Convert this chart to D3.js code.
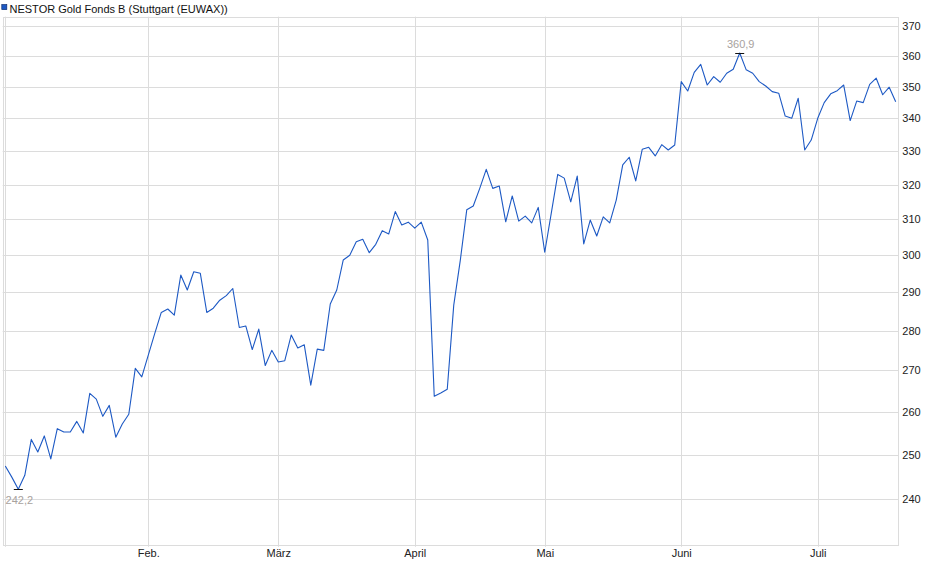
<!DOCTYPE html>
<head>
    <meta charset="utf-8">
    <style>
        body {
            margin: 0;
            background-color: #fff;
            font-family: "Liberation Sans", Arial, sans-serif;
        }
        svg text { font-family: "Liberation Sans", Arial, sans-serif; }
    </style>
</head>

<body>
    <div id="chart-area"></div>

    <script src="https://d3js.org/d3.v7.min.js"></script>
    <script>
        // daily closing prices, 2 Jan .. 17 Jul (trading days)
        var prices = [
            247.4, 244.9, 242.2, 245.3, 253.5, 250.6, 254.3, 249.0, 256.0, 255.2,
            255.2, 257.7, 255.0, 264.4, 263.0, 258.9, 261.5, 254.0, 257.1, 259.4,
            270.5, 268.4, 273.8, 279.3, 284.7, 285.6, 284.0, 294.6, 290.6, 295.5,
            295.1, 284.7, 285.8, 287.9, 289.1, 291.0, 280.8, 281.2, 275.2, 280.4,
            271.2, 275.0, 272.1, 272.4, 278.9, 275.6, 276.4, 266.4, 275.3, 275.0,
            286.9, 290.6, 298.7, 300.0, 303.7, 304.4, 300.7, 303.0, 306.8, 305.9,
            312.2, 308.4, 309.2, 307.5, 309.2, 304.2, 263.7, 264.5, 265.4, 286.6,
            298.5, 312.7, 313.8, 318.9, 324.5, 318.9, 319.6, 309.3, 316.7, 309.5,
            310.9, 309.0, 313.4, 300.8, 311.7, 323.0, 321.9, 315.0, 322.5, 303.1,
            309.8, 305.3, 310.7, 309.0, 315.5, 325.8, 328.1, 321.1, 330.5, 331.1,
            328.5, 331.9, 330.3, 331.8, 351.6, 348.6, 354.6, 357.2, 350.5, 353.2,
            351.4, 354.3, 355.6, 360.9, 355.4, 354.3, 351.6, 350.2, 348.4, 347.9,
            340.7, 340.0, 346.3, 330.3, 333.3, 340.0, 344.9, 347.7, 348.7, 350.5,
            339.3, 345.4, 344.9, 350.7, 352.7, 347.4, 349.8, 345.2
        ]

        // first trading day of each month (index into prices)
        var monthLabels = ["Feb.", "März", "April", "Mai", "Juni", "Juli"]
        var monthIndex = [22, 42, 63, 83, 104, 125]

        var yTicks = [240, 250, 260, 270, 280, 290, 300, 310, 320, 330, 340, 350, 360, 370]

        var title = "NESTOR Gold Fonds B (Stuttgart (EUWAX))"

        var W = 940, H = 579
        var plot = { left: 2.7, top: 16.7, right: 898.3, bottom: 545.3 }
        var lineColor = "#1d59c4"
        var gridColor = "#dcdcdc"
        var format = v => d3.format(".1f")(v).replace(".", ",")

        var svg = d3.select("#chart-area").append("svg")
            .attr("width", W)
            .attr("height", H)

        var x = d3.scaleLinear()
            .domain([0, prices.length - 1])
            .range([5.3, 895.7])

        var y = d3.scaleLog()
            .domain([230.1, 373.1])
            .range([plot.bottom, plot.top])

        // horizontal grid
        svg.append("g")
            .selectAll("line")
            .data(yTicks)
            .join("line")
            .attr("x1", plot.left)
            .attr("x2", plot.right)
            .attr("y1", d => Math.round(y(d)) + 0.5)
            .attr("y2", d => Math.round(y(d)) + 0.5)
            .attr("stroke", gridColor)

        // vertical grid (month starts + first day)
        svg.append("g")
            .selectAll("line")
            .data([0].concat(monthIndex))
            .join("line")
            .attr("x1", d => Math.round(x(d)) + 0.5)
            .attr("x2", d => Math.round(x(d)) + 0.5)
            .attr("y1", plot.top)
            .attr("y2", plot.bottom + 1.5)
            .attr("stroke", gridColor)

        // frame
        svg.append("rect")
            .attr("x", Math.round(plot.left) + 0.5)
            .attr("y", Math.round(plot.top) + 0.5)
            .attr("width", Math.round(plot.right) - Math.round(plot.left))
            .attr("height", Math.round(plot.bottom) - Math.round(plot.top))
            .attr("fill", "none")
            .attr("stroke", gridColor)

        // right axis labels
        var yAxis = d3.axisRight(y)
            .tickValues(yTicks)
            .tickFormat(d3.format("d"))
            .tickSize(0)
            .tickPadding(4)

        svg.append("g")
            .attr("transform", `translate(${plot.right},0)`)
            .call(yAxis)
            .call(g => g.select(".domain").remove())
            .selectAll("text")
            .attr("font-size", 11)
            .attr("fill", "#222")
            .attr("font-family", "Liberation Sans, Arial, sans-serif")

        // bottom axis labels
        var xAxis = d3.axisBottom(x)
            .tickValues(monthIndex)
            .tickFormat((d, i) => monthLabels[i])
            .tickSize(0)
            .tickPadding(3.6)

        svg.append("g")
            .attr("transform", `translate(0,${plot.bottom})`)
            .call(xAxis)
            .call(g => g.select(".domain").remove())
            .selectAll("text")
            .attr("font-size", 11)
            .attr("fill", "#222")
            .attr("font-family", "Liberation Sans, Arial, sans-serif")

        // price line
        var line = d3.line()
            .x((d, i) => x(i))
            .y(d => y(d))

        svg.append("path")
            .datum(prices)
            .attr("d", line)
            .attr("fill", "none")
            .attr("stroke", lineColor)
            .attr("stroke-width", 1.1)
            .attr("stroke-linejoin", "round")

        // min / max markers
        var iMin = d3.minIndex(prices), iMax = d3.maxIndex(prices)
        var marks = [
            { i: iMin, v: prices[iMin], dy: 10.8 },
            { i: iMax, v: prices[iMax], dy: -8.6 }
        ]

        var mg = svg.append("g")
        mg.selectAll("line")
            .data(marks)
            .join("line")
            .attr("x1", d => x(d.i) - 4.5)
            .attr("x2", d => x(d.i) + 4.5)
            .attr("y1", d => Math.round(y(d.v)) + 0.5)
            .attr("y2", d => Math.round(y(d.v)) + 0.5)
            .attr("stroke", "#111")
        mg.selectAll("text")
            .data(marks)
            .join("text")
            .attr("x", d => x(d.i) + 1)
            .attr("y", d => y(d.v) + d.dy)
            .attr("dy", "0.35em")
            .attr("text-anchor", "middle")
            .attr("font-size", 11)
            .attr("fill", "#a8a29e")
            .text(d => format(d.v))

        // legend / title
        svg.append("rect")
            .attr("x", 1.8)
            .attr("y", 4.6)
            .attr("width", 5)
            .attr("height", 5)
            .attr("fill", lineColor)
            .attr("stroke", "#0f2f70")
            .attr("stroke-width", 0.7)

        svg.append("text")
            .attr("x", 9.5)
            .attr("y", 13)
            .attr("font-size", 11)
            .attr("fill", "#111")
            .text(title)
    </script>
</body>
